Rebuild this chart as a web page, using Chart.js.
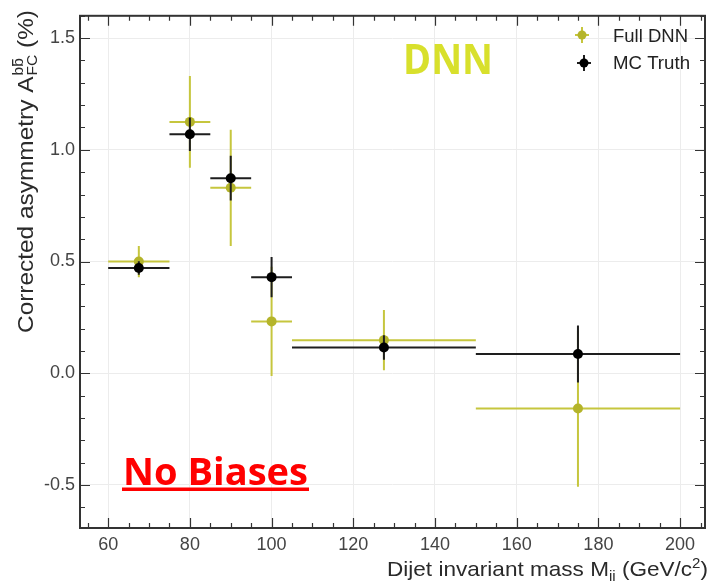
<!DOCTYPE html>
<html>
<head>
<meta charset="utf-8">
<script src="https://cdn.jsdelivr.net/npm/chart.js@4.4.1/dist/chart.umd.min.js"></script>
<style>
  html, body { margin: 0; padding: 0; background: #fff; }
  canvas { display: block; }
</style>
</head>
<body>
<canvas id="c" width="711" height="581"></canvas>
<script>
// ---- data ----
const binCenter = [67.5, 80, 90, 100, 127.5, 175];
const binLow    = [60, 75, 85, 95, 105, 150];
const binHigh   = [75, 85, 95, 105, 150, 200];

const dnnY   = [0.50, 1.125, 0.83, 0.232, 0.148, -0.158];
const dnnErr = [0.07, 0.205, 0.26, 0.245, 0.135, 0.35];

const mcY    = [0.471, 1.07, 0.873, 0.43, 0.115, 0.086];
const mcErr  = [0.03, 0.075, 0.10, 0.09, 0.055, 0.128];

const xTicks = [60, 80, 100, 120, 140, 160, 180, 200];
const yTicks = [-0.5, 0.0, 0.5, 1.0, 1.5];
const xMinorStep = 5;
const yMinorStep = 0.1;

const seriesNames = ['Full DNN', 'MC Truth'];
const dnnBarColor = '#c6c63e', dnnMarkColor = '#b4b42a';
const mcBarColor = '#1e1e1e', mcMarkColor = '#000000';

function fitText(ctx, text, x, y, font, targetW) {
  ctx.font = font;
  const w = ctx.measureText(text).width;
  ctx.save();
  ctx.translate(x, y);
  ctx.scale(targetW / w, 1);
  ctx.fillText(text, 0, 0);
  ctx.restore();
}

const decorPlugin = {
  id: 'decor',
  beforeDatasetDraw(chart, args) {
    const ds = chart.data.datasets[args.index];
    const ctx = chart.ctx, xs = chart.scales.x, ys = chart.scales.y;
    ctx.save();
    ctx.strokeStyle = ds.barColor;
    ctx.lineWidth = 2;
    ds.data.forEach((p, i) => {
      const px = xs.getPixelForValue(p.x), py = ys.getPixelForValue(p.y);
      ctx.beginPath();
      ctx.moveTo(xs.getPixelForValue(ds.xLo[i]), py);
      ctx.lineTo(xs.getPixelForValue(ds.xHi[i]), py);
      ctx.moveTo(px, ys.getPixelForValue(p.y - ds.yErr[i]));
      ctx.lineTo(px, ys.getPixelForValue(p.y + ds.yErr[i]));
      ctx.stroke();
    });
    ctx.restore();
  },
  afterDraw(chart) {
    const ctx = chart.ctx, xs = chart.scales.x, ys = chart.scales.y;
    const a = chart.chartArea;
    ctx.save();
    // minor/major ticks (inward) on all four sides
    ctx.strokeStyle = '#333';
    ctx.lineWidth = 1.2;
    ctx.beginPath();
    for (let v = Math.ceil(xs.min / xMinorStep) * xMinorStep; v <= xs.max; v += xMinorStep) {
      const major = xTicks.includes(v);
      const L = major ? 10 : 5;
      const px = Math.round(xs.getPixelForValue(v)) + 0.5;
      ctx.moveTo(px, a.bottom); ctx.lineTo(px, a.bottom - L);
      ctx.moveTo(px, a.top); ctx.lineTo(px, a.top + L);
    }
    for (let k = Math.ceil(ys.min / yMinorStep); k * yMinorStep <= ys.max + 1e-9; k++) {
      const v = k * yMinorStep;
      const major = k % 5 === 0;
      const L = major ? 10 : 5;
      const py = Math.round(ys.getPixelForValue(v)) + 0.5;
      ctx.moveTo(a.left, py); ctx.lineTo(a.left + L, py);
      ctx.moveTo(a.right, py); ctx.lineTo(a.right - L, py);
    }
    ctx.stroke();
    // frame
    ctx.lineWidth = 2;
    ctx.strokeStyle = '#333';
    ctx.strokeRect(a.left, a.top, a.right - a.left, a.bottom - a.top);

    // x-axis title
    ctx.fillStyle = '#2a2a2a';
    ctx.textBaseline = 'alphabetic';
    ctx.textAlign = 'left';
    {
      const F = '21px "Liberation Sans"', S = '14px "Liberation Sans"';
      const parts = [
        {t: 'Dijet invariant mass M', f: F, dy: 0},
        {t: 'jj', f: S, dy: 5},
        {t: ' (GeV/c', f: F, dy: 0},
        {t: '2', f: S, dy: -8},
        {t: ')', f: F, dy: 0}
      ];
      let tot = 0;
      parts.forEach(p => { ctx.font = p.f; p.w = ctx.measureText(p.t).width; tot += p.w; });
      const sc = 321 / tot;
      ctx.save();
      ctx.translate(387, 576);
      ctx.scale(sc, 1);
      let x = 0;
      parts.forEach(p => { ctx.font = p.f; ctx.fillText(p.t, x, p.dy); x += p.w; });
      ctx.restore();
    }
    // y-axis title (rotated)
    {
      const F = '22px "Liberation Sans"', S = '14px "Liberation Sans"';
      ctx.font = F;
      const w1 = ctx.measureText('Corrected asymmetry A').width;
      const w3 = ctx.measureText(' (%)').width;
      ctx.font = S;
      const wb = ctx.measureText('bb').width;
      const wf = ctx.measureText('FC').width;
      const ws = Math.max(wb, wf) + 1;
      const tot = w1 + ws + w3;
      const sc = 323 / tot;
      ctx.save();
      ctx.translate(33, 333);
      ctx.rotate(-Math.PI / 2);
      ctx.scale(sc, 1);
      ctx.font = F;
      ctx.fillText('Corrected asymmetry A', 0, 0);
      ctx.font = S;
      ctx.fillText('bb', w1 + 1, -10);
      const wb1 = ctx.measureText('b').width;
      ctx.fillRect(w1 + 1 + wb1 + 1, -21, wb1 - 2, 1.3);
      ctx.fillText('FC', w1 + 1, 4);
      ctx.font = F;
      ctx.fillText(' (%)', w1 + ws, 0);
      ctx.restore();
    }

    // legend
    const leg = [
      {name: seriesNames[0], bar: dnnBarColor, mark: dnnMarkColor, sx: 582, sy: 35, tx: 613, ty: 42, tw: 75},
      {name: seriesNames[1], bar: mcBarColor, mark: mcMarkColor, sx: 584, sy: 63, tx: 613, ty: 69, tw: 77}
    ];
    leg.forEach(l => {
      ctx.strokeStyle = l.bar; ctx.lineWidth = 2;
      ctx.beginPath();
      ctx.moveTo(l.sx - 7, l.sy); ctx.lineTo(l.sx + 7, l.sy);
      ctx.moveTo(l.sx, l.sy - 8); ctx.lineTo(l.sx, l.sy + 8);
      ctx.stroke();
      ctx.fillStyle = l.mark;
      ctx.beginPath(); ctx.arc(l.sx, l.sy, 4.5, 0, Math.PI * 2); ctx.fill();
      ctx.fillStyle = '#222';
      fitText(ctx, l.name, l.tx, l.ty, '18px "Liberation Sans"', l.tw);
    });

    // annotations
    ctx.fillStyle = '#d8e02c';
    fitText(ctx, 'DNN', 403, 74, 'bold 41px "Open Sans"', 90);
    ctx.fillStyle = '#ff0000';
    fitText(ctx, 'No Biases', 123, 485, 'bold 37px "Open Sans"', 185);
    ctx.fillRect(122, 487.5, 187, 3.5);
    ctx.restore();
  }
};

const chart = new Chart(document.getElementById('c'), {
  type: 'scatter',
  data: {
    datasets: [
      {
        label: seriesNames[0],
        data: binCenter.map((x, i) => ({x: x, y: dnnY[i]})),
        xLo: binLow, xHi: binHigh, yErr: dnnErr,
        barColor: dnnBarColor,
        backgroundColor: dnnMarkColor, borderColor: dnnMarkColor,
        pointRadius: 5, pointBorderWidth: 0, order: 2
      },
      {
        label: seriesNames[1],
        data: binCenter.map((x, i) => ({x: x, y: mcY[i]})),
        xLo: binLow, xHi: binHigh, yErr: mcErr,
        barColor: mcBarColor,
        backgroundColor: mcMarkColor, borderColor: mcMarkColor,
        pointRadius: 5, pointBorderWidth: 0, order: 1
      }
    ]
  },
  options: {
    responsive: false,
    animation: false,
    layout: { padding: { top: 9, right: 6, left: 0, bottom: 0 } },
    plugins: { legend: { display: false }, tooltip: { enabled: false } },
    scales: {
      x: {
        type: 'linear', min: 53.1, max: 206.1,
        afterBuildTicks: s => { s.ticks = xTicks.map(v => ({value: v})); },
        afterFit: s => { s.height = 53; },
        grid: { color: '#ececec', drawTicks: false },
        border: { display: false },
        ticks: {
          padding: 6, color: '#444', autoSkip: false, maxRotation: 0,
          font: { family: 'Liberation Sans', size: 18 },
          callback: v => String(v)
        }
      },
      y: {
        type: 'linear', min: -0.693, max: 1.6,
        afterBuildTicks: s => { s.ticks = yTicks.map(v => ({value: v})); },
        afterFit: s => { s.width = 80; },
        grid: { color: '#ececec', drawTicks: false },
        border: { display: false },
        ticks: {
          padding: 5, color: '#444',
          font: { family: 'Liberation Sans', size: 18 },
          callback: v => Number(v).toFixed(1)
        }
      }
    }
  },
  plugins: [decorPlugin]
});
</script>
</body>
</html>
